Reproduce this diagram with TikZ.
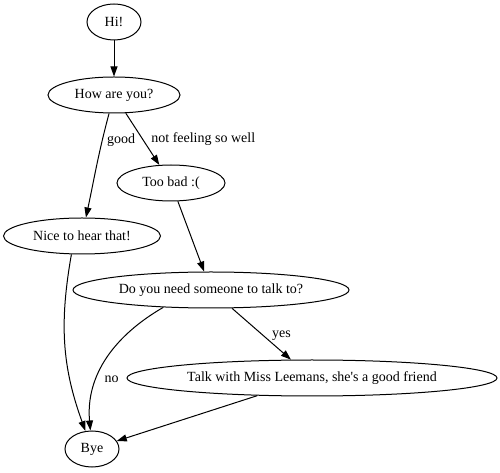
\documentclass[tikz,border=0pt]{standalone}
\usepackage{fontspec}
\setmainfont{Liberation Serif}
\usepackage{tikz}
\usetikzlibrary{arrows.meta,shapes.geometric}

\begin{document}
\begin{tikzpicture}[>={Triangle[length=10bp,width=7bp]}, line width=1bp,
	every node/.style={font=\fontsize{14bp}{16bp}\selectfont},
	bubble/.style={ellipse, draw, inner sep=0pt, minimum height=36bp}]
	\useasboundingbox (0bp,0bp) rectangle (500bp,473bp);

	\node (hi) at (114bp,451bp) [bubble, minimum width=54bp] {Hi!};
	\node (how) at (114bp,378bp) [bubble, minimum width=132bp] {How are you?};
	\node (bad) at (171bp,290bp) [bubble, minimum width=108bp] {Too bad :(};
	\node (nice) at (82bp,237bp) [bubble, minimum width=157bp] {Nice to hear that!};
	\node (need) at (211bp,183bp) [bubble, minimum width=276bp] {Do you need someone to talk to?};
	\node (talk) at (312bp,95bp) [bubble, minimum width=370bp] {Talk with Miss Leemans, she\textquotesingle s a good friend};
	\node (bye) at (92bp,24bp) [bubble, minimum width=54bp] {Bye};

	\draw [->] (hi) to (how);
	\draw [->] (how.-105) to[out=-105,in=78] node[pos=0.24,right=1bp] {good} (nice);
	\draw [->] (how) to node[pos=0.5,right=5bp] {not feeling so well} (bad);
	\draw [->] (bad) to (need);
	\draw [->] (nice.-120) to[out=-100,in=110] (bye);
	\draw [->] (need) to node[pos=0.53,right=5bp] {yes} (talk);
	\draw [->] (need.-160) to[out=-150,in=95] node[pos=0.66,right=4bp] {no} (bye);
	\draw [->] (talk) to (bye);

\end{tikzpicture}
\end{document}
